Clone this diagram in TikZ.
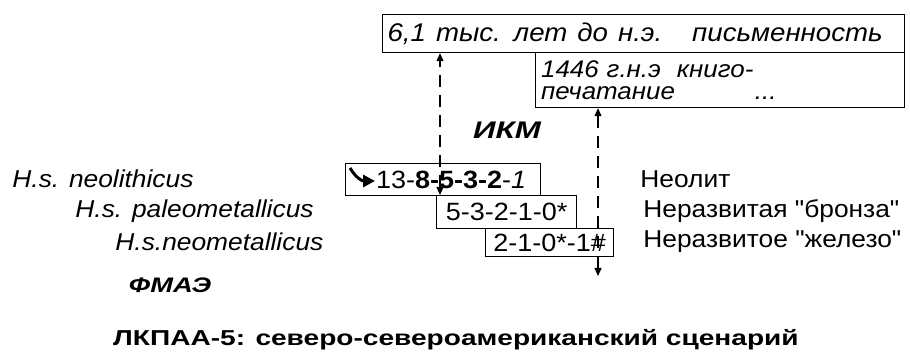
\documentclass[tikz,border=0pt]{standalone}
\usepackage{fontspec}
\setmainfont{Liberation Sans}[FakeStretch=1.08, Ligatures=TeXOff]
\newfontfamily\headfont{Liberation Sans}[FakeStretch=1.3]
\usepackage{tikz}
\usetikzlibrary{arrows.meta, positioning}
\tikzset{
  frame/.style={draw, line width=0.6pt, inner sep=2pt, anchor=north west,
    font=\fontsize{12.5}{12}\selectfont},
  lbl/.style={font=\fontsize{12.2}{13}\selectfont\itshape, anchor=west, inner sep=0pt},
  era/.style={font=\fontsize{12.2}{13}\selectfont, anchor=west, inner sep=0pt},
  head/.style={font=\headfont\fontsize{#1}{13}\selectfont\bfseries\itshape, inner sep=0pt},
  darrow/.style={{Triangle[length=4pt,width=3.5pt]}-{Triangle[length=4pt,width=3.5pt]},
    line width=0.6pt, dash pattern=on 6pt off 4pt},
}

\begin{document}
\begin{tikzpicture}[x=0.5pt, y=-0.5pt]
  \useasboundingbox (0,0) rectangle (910,356);

  % Epochs of information
  \node[frame, minimum width=261pt, minimum height=19pt, text width=256pt,
        align=left, font=\fontsize{12.8}{13}\selectfont\itshape] (write) at (382,14)
    {\spaceskip=5pt\relax 6,1 тыс. лет до н.э.\hspace{15pt}письменность};
  \node[frame, minimum width=184.5pt, minimum height=27.5pt, text width=179pt,
        align=left, font=\fontsize{12}{10.8}\selectfont\itshape] (print) at (535,52)
    {1446 г.н.э\ \ книго-\\печатание\hspace{40pt}...};

  \node[head=12] (ikm) at (507,130) {ИКМ};

  % Sequences
  \node[frame, minimum width=97.5pt, minimum height=16pt, text width=93pt,
        align=left] (seq1) at (345,163)
    {\hspace*{13pt}13-\textbf{8-5-3-2}-\textit{1}};
  \node[frame, minimum width=70pt, minimum height=16.5pt] (seq2) at (436,195)
    {5-3-2-1-0*};
  \node[frame, minimum width=64pt, minimum height=14pt] (seq3) at (485,228)
    {2-1-0*-1\#};
  \draw[line width=1.5pt, -{Triangle[length=6pt,width=6pt]}]
    (350,168) .. controls (356,178) and (362,181) .. (375,181);

  % Taxa
  \node[lbl] (neo)   at (12,179)  {H.s. neolithicus};
  \node[lbl] (paleo) at (75,211)  {H.s. paleometallicus};
  \node[lbl] (nmet)  at (115,242) {H.s.neometallicus};

  % Periods
  \node[era] (neol)   at (640,179) {Неолит};
  \node[era] (bronze) at (643,211) {Неразвитая "бронза"};
  \node[era] (iron)   at (643,242) {Неразвитое "железо"};

  \node[head=10.5] (fmae) at (170,285) {ФМАЭ};
  \node[font=\headfont\fontsize{10.8}{12}\selectfont\bfseries] (title) at (456,340)
    {ЛКПАА-5: северо-североамериканский сценарий};

  % Arrows
  \coordinate (low) at (598,276);
  \draw[darrow] ([xshift=2pt]seq2.north west) -- ([xshift=2pt]seq2.north west |- write.south);
  \draw[darrow] (print.south -| low) -- (low);

\end{tikzpicture}
\end{document}
